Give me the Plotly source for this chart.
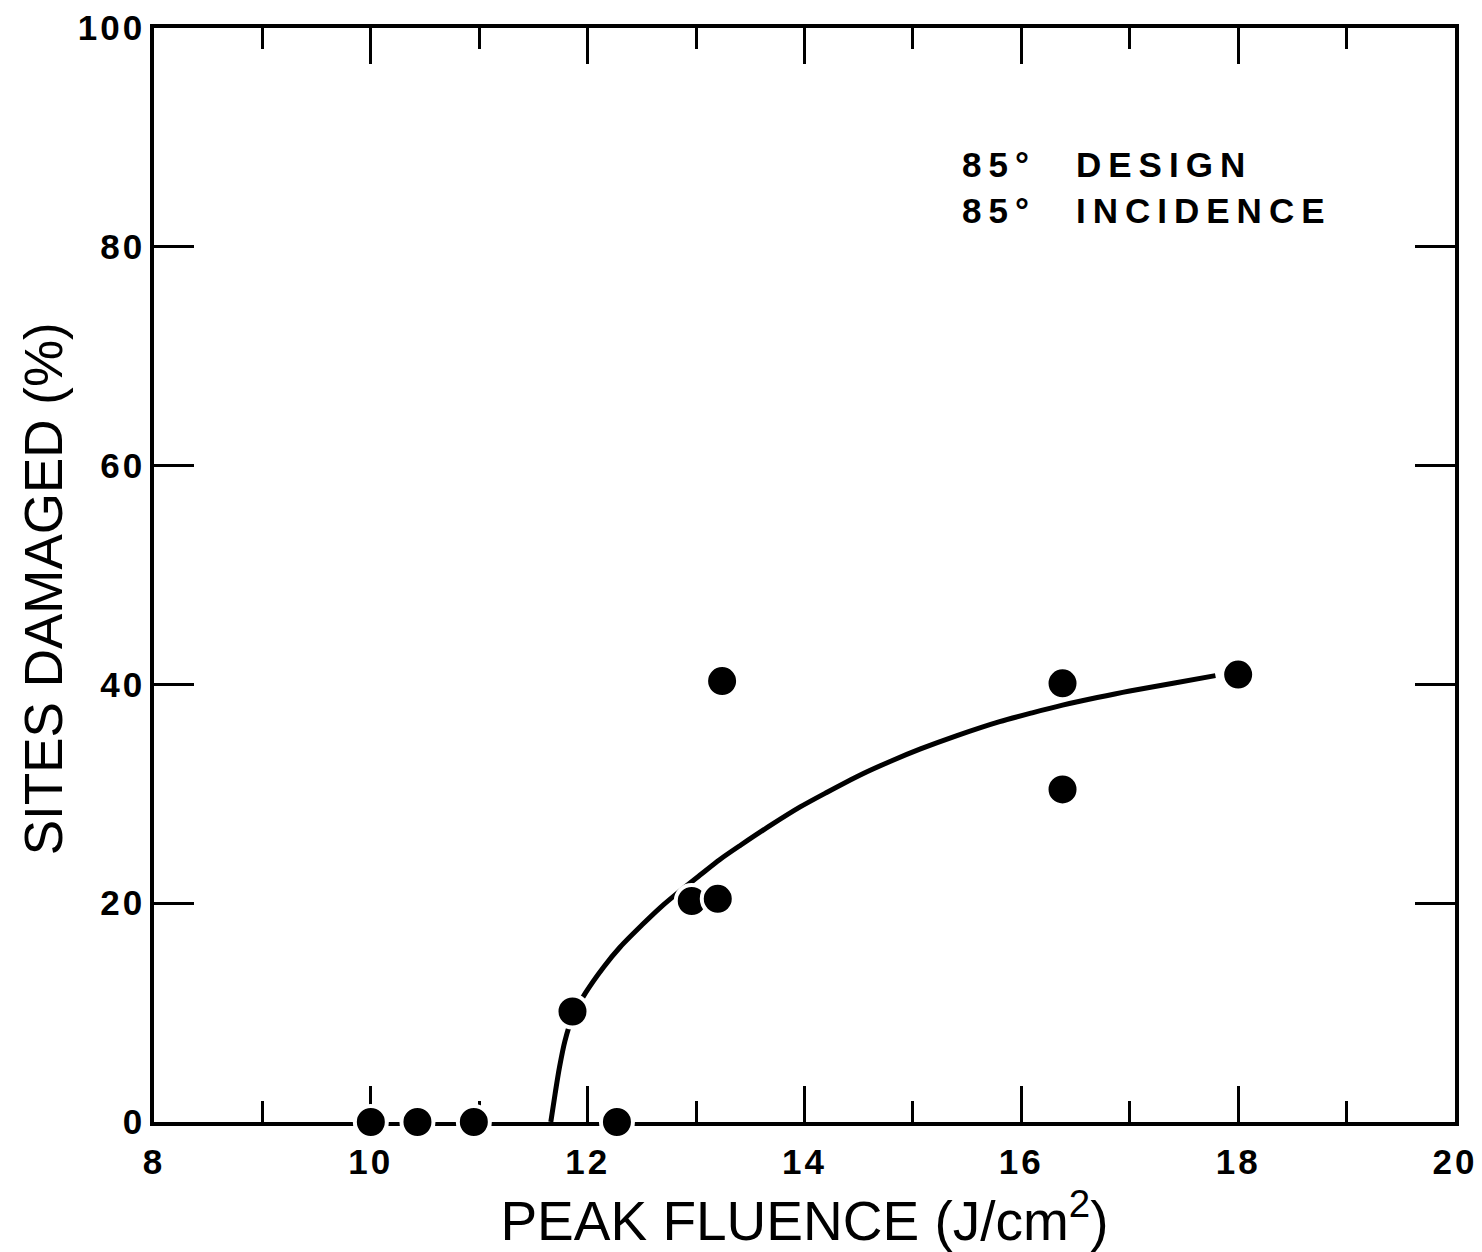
import plotly.graph_objects as go

fluence = [10.0, 10.43, 10.95, 11.86, 12.27, 12.96, 13.20, 13.24, 16.38, 16.38, 18.0]
damaged = [0.0, 0.0, 0.0, 10.1, 0.0, 20.2, 20.4, 40.3, 40.1, 30.4, 40.9]

# Hand-drawn fit curve
fit_x = [11.66, 11.70, 11.74, 11.79, 11.86, 11.98, 12.15, 12.30, 12.50, 12.67, 12.85, 13.04,
         13.22, 13.41, 13.70, 13.96, 14.20, 14.51, 14.80, 15.07, 15.40, 15.80, 16.10, 16.38,
         16.70, 17.00, 17.40, 17.79]
fit_y = [0.0, 2.6, 5.0, 7.4, 9.6, 11.8, 14.2, 16.0, 18.0, 19.6, 21.1, 22.6,
         24.0, 25.3, 27.2, 28.8, 30.1, 31.7, 33.0, 34.1, 35.3, 36.6, 37.4, 38.1,
         38.8, 39.4, 40.1, 40.8]

x_ticks = [8, 10, 12, 14, 16, 18, 20]
y_ticks = [0, 20, 40, 60, 80, 100]

FONT = "Liberation Sans, Arial, Helvetica, sans-serif"
TLS = "letter-spacing:3px"

fig = go.Figure()
fig.add_trace(go.Scatter(x=fit_x, y=fit_y, mode="lines",
                         line=dict(color="black", width=5, shape="spline", smoothing=0.8),
                         hoverinfo="skip", showlegend=False))
fig.add_trace(go.Scatter(x=fluence, y=damaged, mode="markers",
                         marker=dict(color="black", size=32,
                                     line=dict(color="white", width=4)),
                         showlegend=False, cliponaxis=False))

axis_common = dict(showline=True, linecolor="black", linewidth=3.5, mirror="ticks",
                   ticks="inside", tickcolor="black", tickwidth=2.5, automargin=False,
                   showgrid=False, zeroline=False, layer="below traces",
                   ticklabeloverflow="allow",
                   tickfont=dict(family=FONT, size=35, color="black", weight="bold"))

fig.update_xaxes(range=[8, 20], tickvals=x_ticks,
                 ticktext=[f"<span style='{TLS}'>{v}</span>" for v in x_ticks],
                 ticklen=36, ticklabelstandoff=6,
                 minor=dict(dtick=1, tick0=8, ticks="inside", ticklen=21,
                            tickwidth=2.5, tickcolor="black", showgrid=False),
                 title=dict(text="PEAK FLUENCE (J/cm<sup>2</sup>)", standoff=28,
                            font=dict(family=FONT, size=55, color="black")),
                 **axis_common)
fig.update_yaxes(range=[0, 100], tickvals=y_ticks,
                 ticktext=[f"<span style='{TLS}'>{v}</span>" for v in y_ticks],
                 ticklen=40, ticklabelstandoff=-2,
                 **axis_common)

# y-axis title placed as a rotated annotation
fig.add_annotation(x=-0.0853, y=0.487, xref="paper", yref="paper",
                   xanchor="center", yanchor="middle", textangle=-90,
                   text="SITES DAMAGED (%)", showarrow=False,
                   font=dict(family=FONT, size=53, color="black"))

ls = "letter-spacing:7px"
fig.add_annotation(x=15.43, y=85.4, xref="x", yref="y", xanchor="left", yanchor="middle",
                   text=f"<span style='{ls}'>85°</span><br><span style='{ls}'>85°</span>",
                   showarrow=False, align="left",
                   font=dict(family=FONT, size=35, color="black", weight="bold"))
fig.add_annotation(x=16.49, y=85.4, xref="x", yref="y", xanchor="left", yanchor="middle",
                   text=f"<span style='{ls}'>DESIGN</span><br><span style='{ls}'>INCIDENCE</span>",
                   showarrow=False, align="left",
                   font=dict(family=FONT, size=35, color="black", weight="bold"))

# page body adds an 8px offset, so the figure is 8px smaller and shifted
fig.update_layout(width=1474, height=1244, autosize=False,
                  margin=dict(l=146, r=27, t=20, b=130),
                  plot_bgcolor="white", paper_bgcolor="white")

fig.write_html("out.html")
